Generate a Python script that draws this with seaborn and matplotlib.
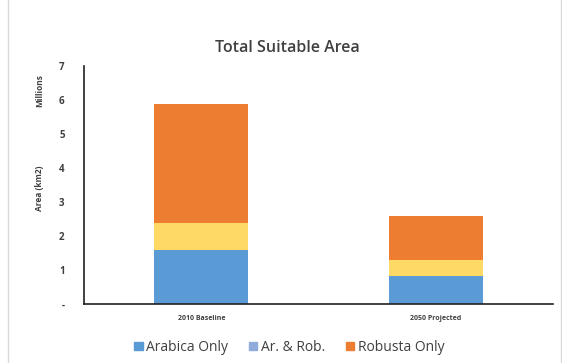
import numpy as np
import pandas as pd
from matplotlib import pyplot as plt
from matplotlib.patches import Patch
import seaborn as sns

scenarios = ['2010 Baseline', '2050 Projected']
arabica_only = [1.60, 0.83]
arabica_robusta = [0.78, 0.47]
robusta_only = [3.50, 1.30]
y_ticks = [0, 1, 2, 3, 4, 5, 6, 7]
y_tick_labels = ['-', '1', '2', '3', '4', '5', '6', '7']

sns.set_style('white')
plt.rcParams['font.family'] = ['Open Sans', 'DejaVu Sans']

fig = plt.figure(figsize=(5.62, 3.63), dpi=100)
ax = fig.add_axes([0.1495, 0.1625, 0.835, 0.6556])

df = pd.DataFrame({
    'scenario': scenarios,
    'arabica': arabica_only,
    'both': arabica_robusta,
    'robusta': robusta_only,
})
bottom_both = df['arabica']
bottom_rob = df['arabica'] + df['both']

bar_kw = dict(width=0.40, saturation=1, linewidth=0, ax=ax)
sns.barplot(data=df, x='scenario', y='arabica', color='#5B9BD5', **bar_kw)
sns.barplot(x=df['scenario'], y=df['both'], bottom=bottom_both,
            color='#FFD966', **bar_kw)
sns.barplot(x=df['scenario'], y=df['robusta'], bottom=bottom_rob,
            color='#ED7D31', **bar_kw)

ax.set_xlim(-0.5, 1.5)
ax.set_ylim(0, 7)
ax.set_yticks(y_ticks)
ax.set_yticklabels(y_tick_labels, fontsize=7, fontweight='bold', color='#404040')
ax.tick_params(axis='y', length=0, pad=14)
ax.tick_params(axis='x', length=0, pad=8)
ax.set_xticks([0, 1])
ax.set_xticklabels(scenarios, fontsize=5, fontweight='bold', color='#404040')
ax.set_xlabel('')
ax.set_ylabel('')

for side in ['top', 'right']:
    ax.spines[side].set_visible(False)
for side in ['left', 'bottom']:
    ax.spines[side].set_color('#202020')
    ax.spines[side].set_linewidth(1.2)

fig.text(0.512, 0.868, 'Total Suitable Area', ha='center', va='center',
         fontsize=11.5, fontweight='semibold', color='#404040')
fig.text(0.071, 0.75, 'Millions', rotation=90, ha='center', va='center',
         fontsize=6, fontweight='bold', color='#404040')
fig.text(0.071, 0.482, 'Area (km2)', rotation=90, ha='center', va='center',
         fontsize=6, fontweight='bold', color='#404040')

handles = [
    Patch(color='#5B9BD5', label='Arabica Only'),
    Patch(color='#8FAADC', label='Ar. & Rob.'),
    Patch(color='#ED7D31', label='Robusta Only'),
]
fig.legend(handles=handles, loc='center', bbox_to_anchor=(0.515, 0.043),
           ncol=3, frameon=False, fontsize=10, handlelength=0.6,
           handleheight=0.6, handletextpad=0.25, columnspacing=1.5,
           labelcolor='#404040')

fig.patches.append(plt.Rectangle((0.014, -0.02), 0.985, 1.05, fill=False,
                                 edgecolor='#D9D9D9', linewidth=1,
                                 transform=fig.transFigure, figure=fig))

fig.savefig('out.png', dpi=100)
